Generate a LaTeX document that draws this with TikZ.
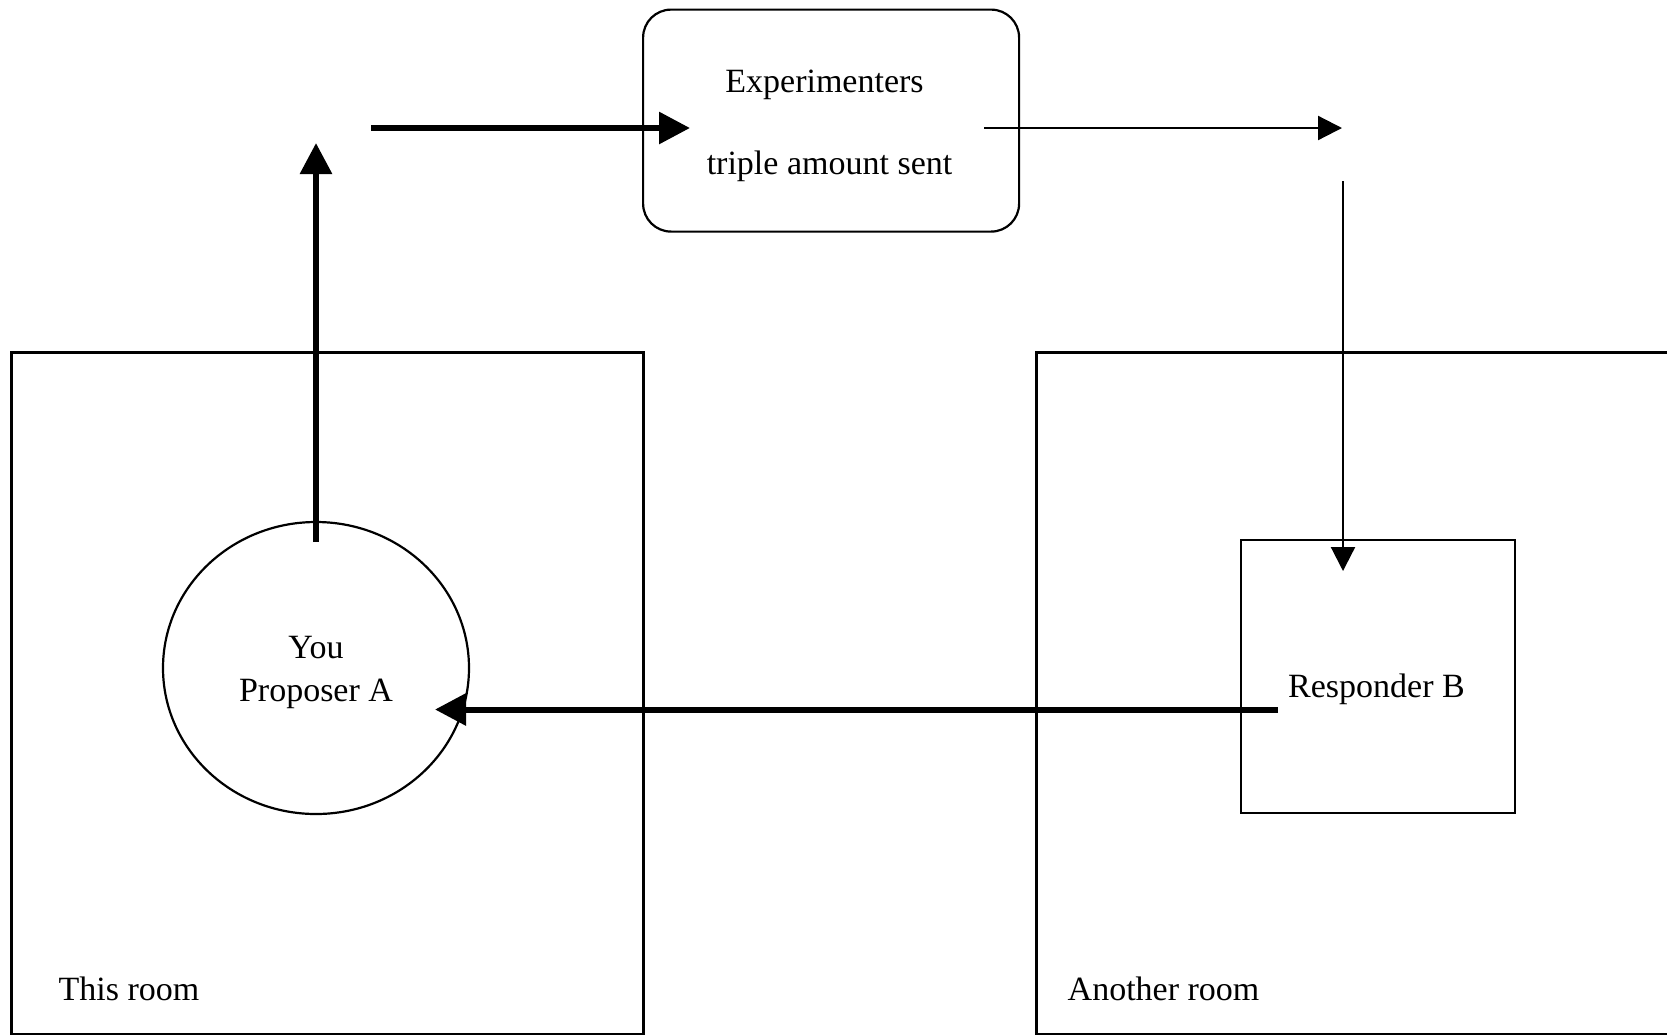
\documentclass[tikz,border=0pt]{standalone}
\usepackage{fontspec}
\setmainfont{Liberation Serif}
\usetikzlibrary{arrows.meta,shapes.geometric}
\tikzset{
  txt/.style={font=\fontsize{34}{43}\selectfont, inner sep=0pt, anchor=base},
  room/.style={draw, line width=3pt, inner sep=0pt, anchor=north west},
  thinbox/.style={draw, line width=2.2pt, inner sep=0pt, anchor=north west},
  bigarrow/.style={line width=6pt, -{Triangle[length=31pt,width=31pt]}},
  smallarrow/.style={line width=2.2pt, -{Triangle[length=24pt,width=24pt]}},
}
\begin{document}
\begin{tikzpicture}[x=1pt,y=-1pt]
\useasboundingbox (0,0) rectangle (1667,1034);
% rooms
\node[room, minimum width=632pt, minimum height=682pt] (thisroom) at (9.5,350.5) {};
\node[room, minimum width=632pt, minimum height=682pt] (otherroom) at (1034.5,350.5) {};
% experimenters box
\node[thinbox, rounded corners=28pt, minimum width=376pt, minimum height=222pt] (exp) at (642,8.5) {};
\node[txt] (exptxt1) at (824.5,92) {Experimenters};
\node[txt] (exptxt2) at (829.5,174) {triple amount sent};
% proposer
\node[draw, ellipse, line width=2.2pt, inner sep=0pt, minimum width=306pt, minimum height=292pt] (prop) at (316,668) {};
\node[txt] (proptxt1) at (316,658.5) {You};
\node[txt] (proptxt2) at (316,701) {Proposer A};
% responder
\node[thinbox, minimum width=274pt, minimum height=273pt] (resp) at (1240,539) {};
\node[txt] (resptxt) at (1376.5,697) {Responder B};
% room labels
\node[txt, anchor=base west] (thislbl) at (58.5,1000) {This room};
\node[txt, anchor=base west] (otherlbl) at (1067.5,1000) {Another room};
% arrow endpoints
\coordinate (a1s) at (316,542);
\coordinate (a1e) at (316,143);
\coordinate (a2s) at (371,128);
\coordinate (a2e) at (690,128);
\coordinate (a3s) at (984,128);
\coordinate (a3e) at (1342,128);
\coordinate (a4s) at (1343,181);
\coordinate (a4e) at (1343,571);
\coordinate (a5s) at (1278,709.5);
\coordinate (a5e) at (435,709.5);
\draw[bigarrow] (a1s) -- (a1e);
\draw[bigarrow] (a2s) -- (a2e);
\draw[smallarrow] (a3s) -- (a3e);
\draw[smallarrow] (a4s) -- (a4e);
\draw[bigarrow] (a5s) -- (a5e);
\end{tikzpicture}
\end{document}
